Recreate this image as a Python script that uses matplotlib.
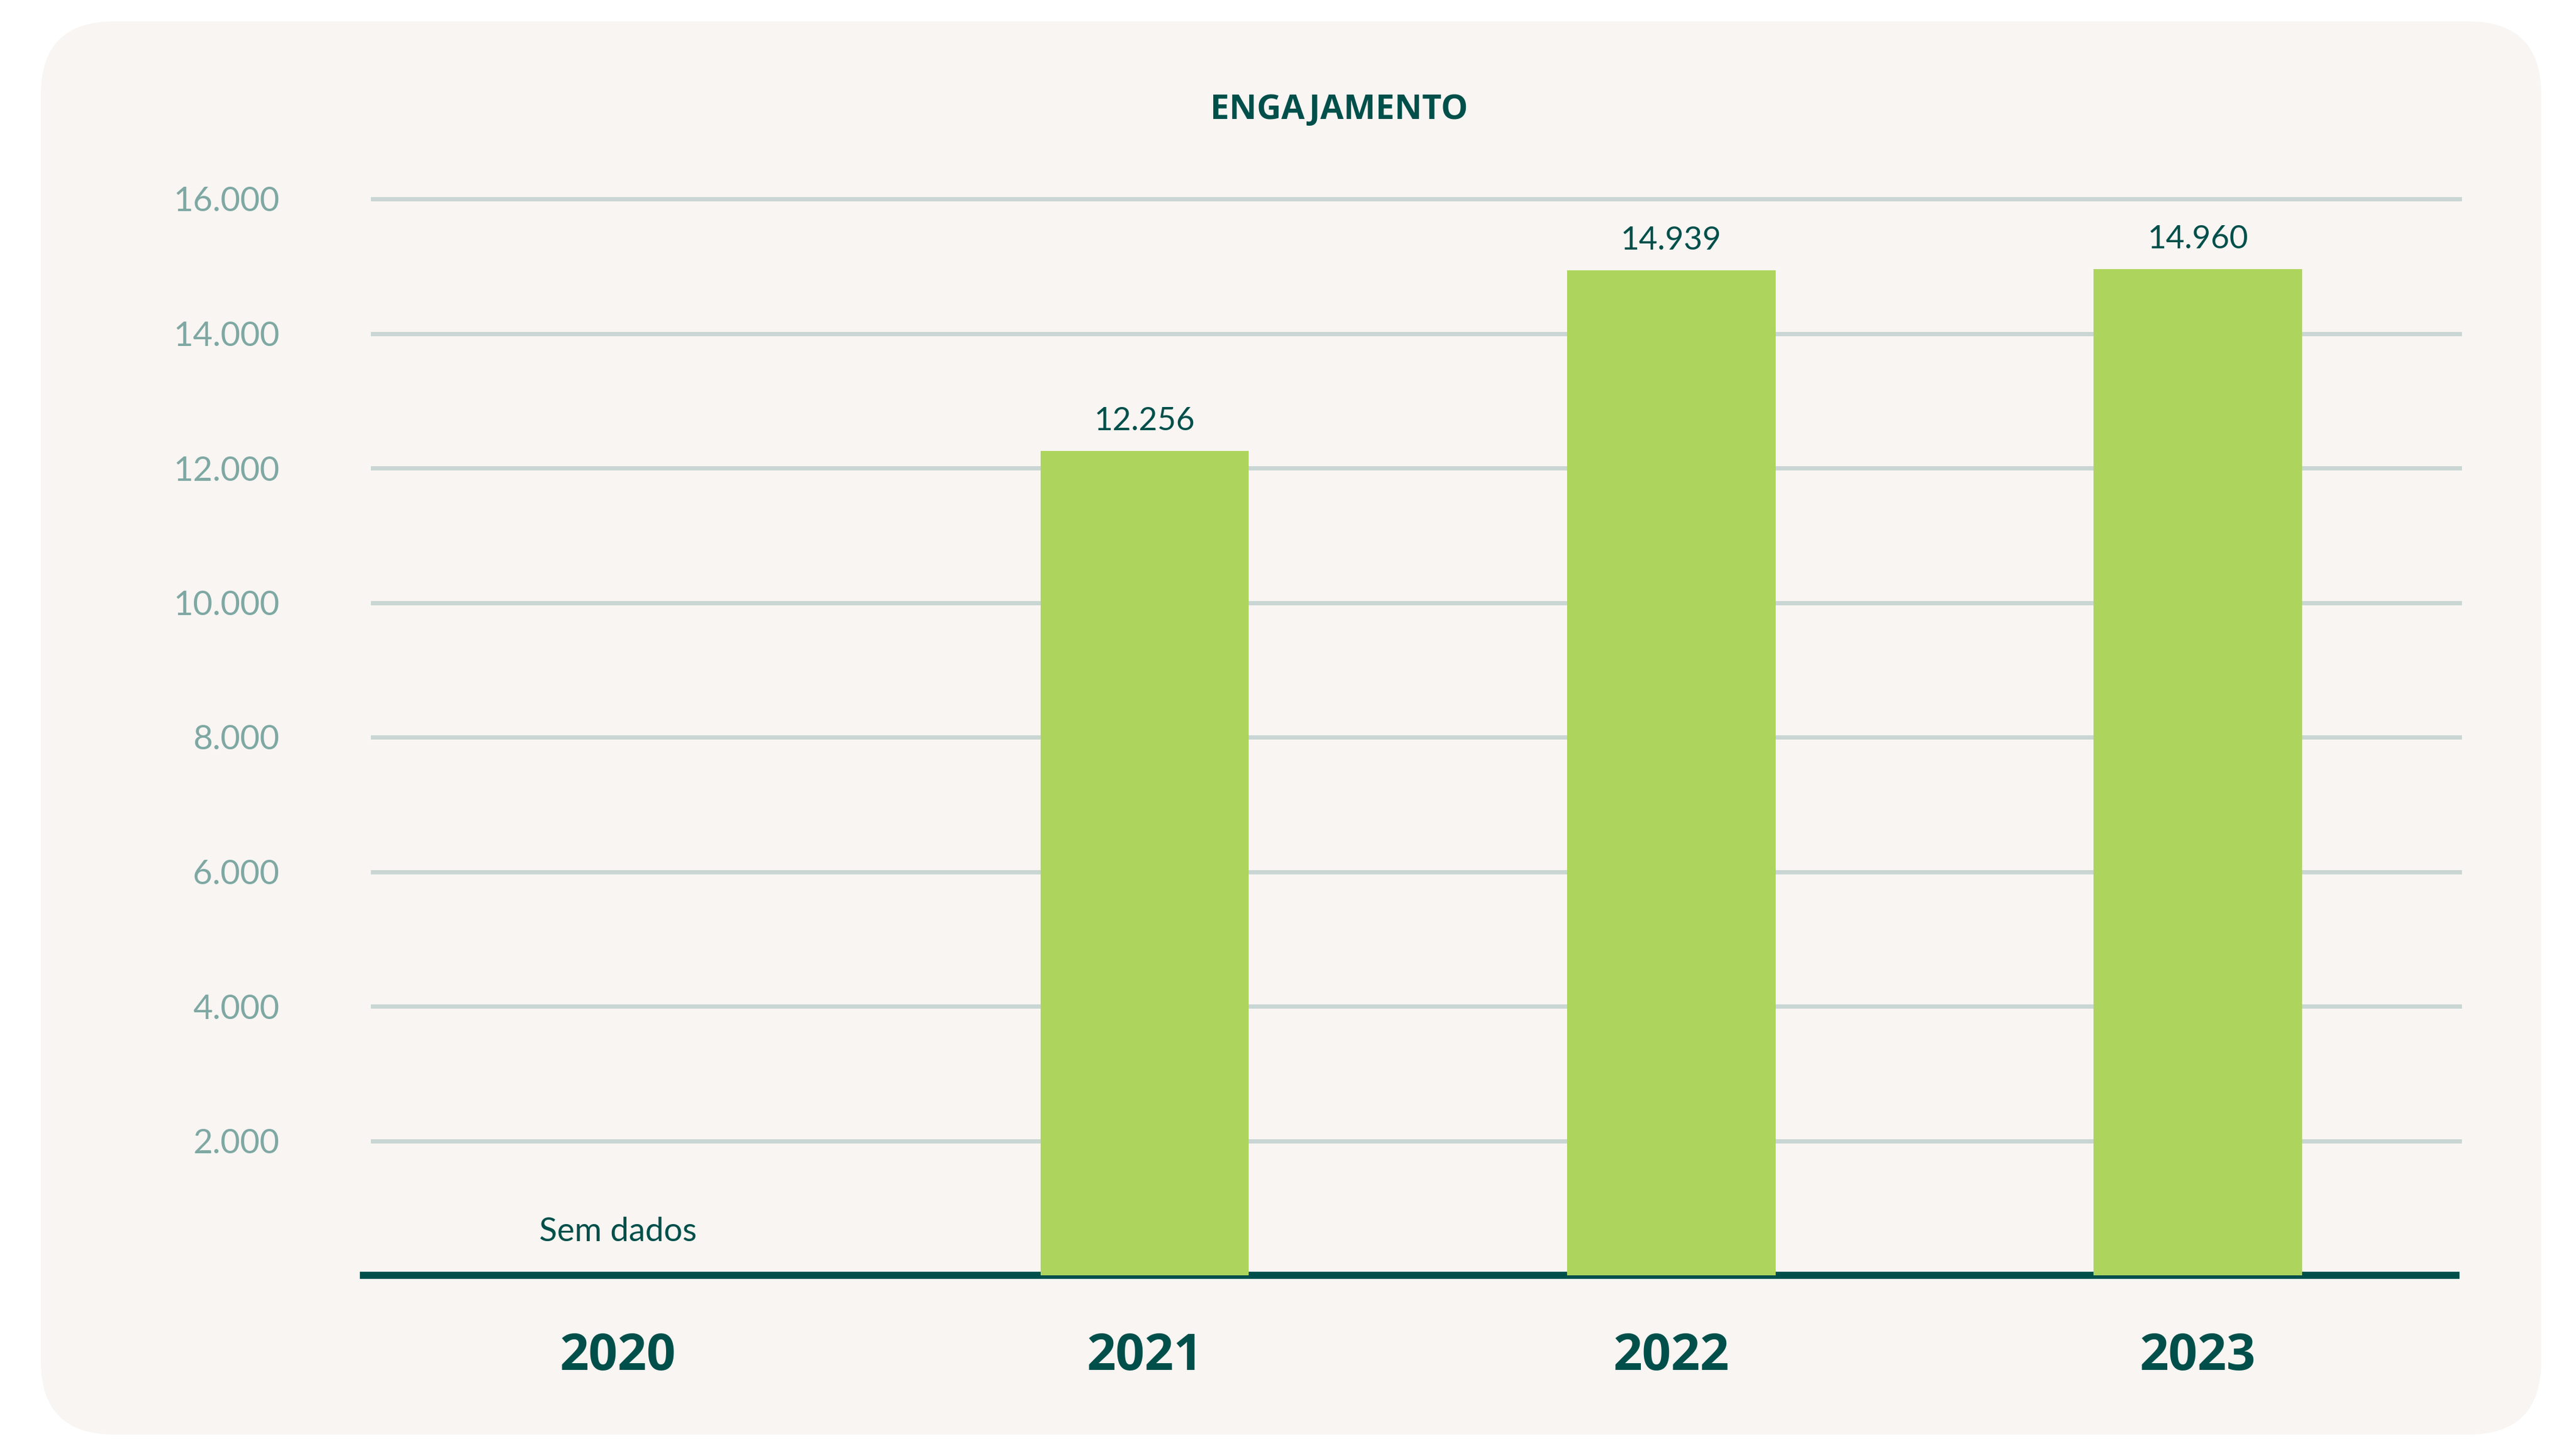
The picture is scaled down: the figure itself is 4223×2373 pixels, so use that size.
import matplotlib
matplotlib.use("Agg")
import matplotlib.pyplot as plt
import numpy as np
from matplotlib.patches import FancyBboxPatch
from matplotlib.ticker import FuncFormatter

# data
anos = ["2020", "2021", "2022", "2023"]
engajamento = [np.nan, 12256, 14939, 14960]
yticks = [2000, 4000, 6000, 8000, 10000, 12000, 14000, 16000]
sem_dados = "Sem dados"
titulo = "ENGAJAMENTO"

verde_escuro = "#004f4a"
cinza_tick = "#7fa8a3"
cinza_grid = "#c9d6d3"
verde_barra = "#add55d"
fundo = "#f8f5f2"

W, H, DPI = 4223, 2373, 200
fig = plt.figure(figsize=(W / DPI, H / DPI), dpi=DPI)
fig.patch.set_facecolor("white")

# card behind the chart (pixel coords)
bg = fig.add_axes([0, 0, 1, 1], zorder=0)
bg.set_xlim(0, W)
bg.set_ylim(H, 0)
bg.axis("off")
bg.add_patch(FancyBboxPatch((67, 35), 4099, 2316,
                            boxstyle="round,pad=0,rounding_size=120",
                            facecolor=fundo, edgecolor="none"))

# main axes: gridlines from x=611 to 4032 px, zero at y=2090 px, 16000 at y=326 px
left, right = 611 / W, 4032 / W
bottom, top = 1 - 2090 / H, 1 - 326 / H
ax = fig.add_axes([left, bottom, right - left, top - bottom], zorder=1)
ax.patch.set_alpha(0)

x = np.arange(len(anos))
ax.set_xlim(-0.466, 3.497)
ax.set_ylim(0, 16000)

for t in yticks:
    ax.axhline(t, color=cinza_grid, lw=2.5, zorder=0, clip_on=False)

ax.plot([-0.49, 3.497], [0, 0], color=verde_escuro, lw=4.2, zorder=1,
        clip_on=False, solid_capstyle="butt")

ax.bar(x, engajamento, width=0.396, color=verde_barra, zorder=2)

for xi, v in zip(x, engajamento):
    if np.isnan(v):
        ax.annotate(sem_dados, (xi, 0), xytext=(0, 17), textcoords="offset points",
                    ha="center", va="bottom", fontsize=19.5, color=verde_escuro,
                    family="Lato")
    else:
        ax.annotate(f"{int(v):,}".replace(",", "."), (xi, v), xytext=(0, 9),
                    textcoords="offset points", ha="center", va="bottom",
                    fontsize=19, color=verde_escuro, family="Lato")

ax.set_yticks(yticks)
ax.yaxis.set_major_formatter(FuncFormatter(lambda v, p: f"{int(v):,}".replace(",", ".")))
ax.tick_params(axis="y", length=0, pad=55, labelsize=20, labelcolor=cinza_tick)
for lab in ax.get_yticklabels():
    lab.set_family("Lato")

ax.set_xticks(x)
ax.set_xticklabels(anos, fontsize=30, fontweight="bold", color=verde_escuro,
                   family="Open Sans")
ax.tick_params(axis="x", length=0, pad=33)

for s in ax.spines.values():
    s.set_visible(False)

fig.text(2195 / W, 1 - 180 / H, titulo, ha="center", va="center", fontsize=20,
         fontweight="bold", color=verde_escuro, family="Open Sans")

fig.savefig("out.png", dpi=DPI, facecolor=fig.get_facecolor())
